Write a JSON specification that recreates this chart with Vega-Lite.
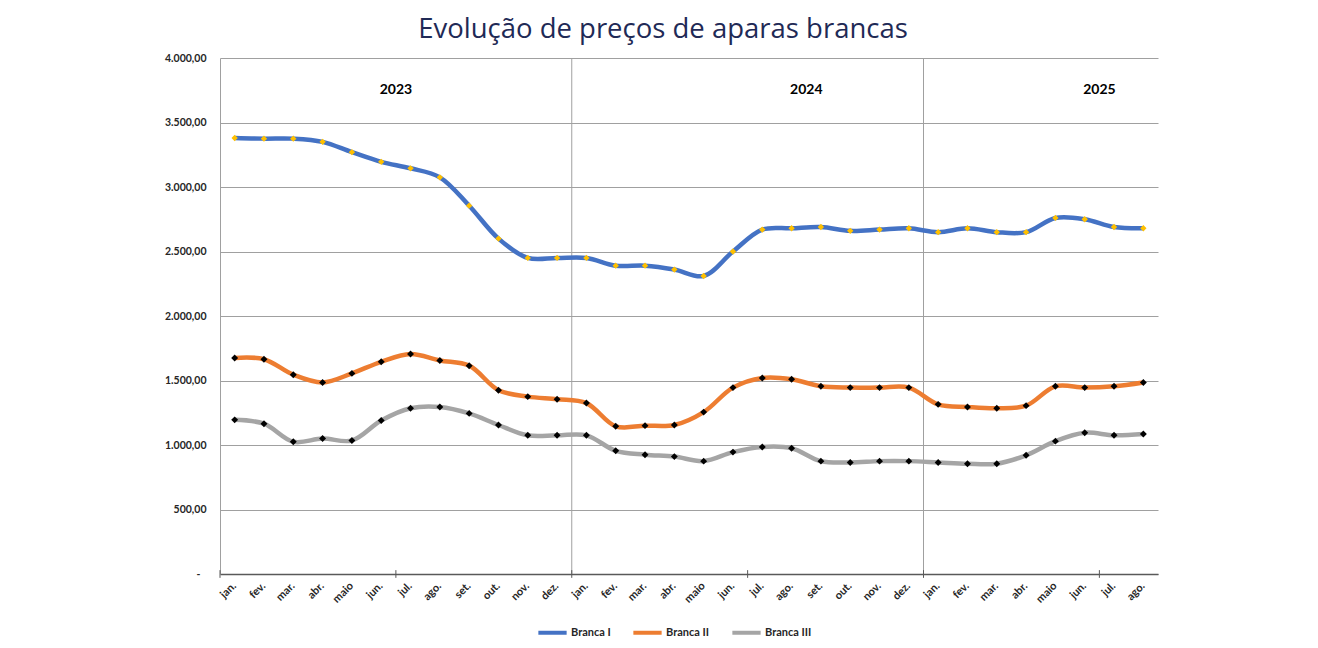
{
  "$schema": "https://vega.github.io/schema/vega-lite/v6.json",
  "width": 938,
  "height": 516,
  "autosize": {"type": "none"},
  "padding": {"left": 220, "top": 58, "right": 160, "bottom": 74},
  "background": "white",
  "config": {
    "locale": {"number": {"decimal": ",", "thousands": ".", "grouping": [3], "currency": ["R$", ""]}},
    "view": {"stroke": null},
    "font": "Lato"
  },
  "title": {
    "text": "Evolução de preços de aparas brancas",
    "font": "Open Sans",
    "fontSize": 27.5,
    "fontWeight": "normal",
    "color": "#1f2a56",
    "anchor": "middle",
    "frame": "group",
    "dx": -26,
    "offset": -12,
    "baseline": "alphabetic"
  },
  "datasets": {
    "precos": [
      {"p": "jan. 2023", "Branca I": 3380, "Branca II": 1675, "Branca III": 1195},
      {"p": "fev. 2023", "Branca I": 3375, "Branca II": 1665, "Branca III": 1165},
      {"p": "mar. 2023", "Branca I": 3375, "Branca II": 1545, "Branca III": 1025},
      {"p": "abr. 2023", "Branca I": 3350, "Branca II": 1485, "Branca III": 1050},
      {"p": "maio 2023", "Branca I": 3270, "Branca II": 1555, "Branca III": 1035},
      {"p": "jun. 2023", "Branca I": 3195, "Branca II": 1645, "Branca III": 1190},
      {"p": "jul. 2023", "Branca I": 3145, "Branca II": 1705, "Branca III": 1285},
      {"p": "ago. 2023", "Branca I": 3075, "Branca II": 1655, "Branca III": 1295},
      {"p": "set. 2023", "Branca I": 2855, "Branca II": 1615, "Branca III": 1245},
      {"p": "out. 2023", "Branca I": 2600, "Branca II": 1425, "Branca III": 1155},
      {"p": "nov. 2023", "Branca I": 2450, "Branca II": 1375, "Branca III": 1075},
      {"p": "dez. 2023", "Branca I": 2450, "Branca II": 1355, "Branca III": 1075},
      {"p": "jan. 2024", "Branca I": 2450, "Branca II": 1325, "Branca III": 1075},
      {"p": "fev. 2024", "Branca I": 2390, "Branca II": 1145, "Branca III": 955},
      {"p": "mar. 2024", "Branca I": 2390, "Branca II": 1150, "Branca III": 925},
      {"p": "abr. 2024", "Branca I": 2360, "Branca II": 1155, "Branca III": 910},
      {"p": "maio 2024", "Branca I": 2310, "Branca II": 1255, "Branca III": 875},
      {"p": "jun. 2024", "Branca I": 2500, "Branca II": 1445, "Branca III": 945},
      {"p": "jul. 2024", "Branca I": 2670, "Branca II": 1520, "Branca III": 985},
      {"p": "ago. 2024", "Branca I": 2680, "Branca II": 1510, "Branca III": 975},
      {"p": "set. 2024", "Branca I": 2690, "Branca II": 1455, "Branca III": 875},
      {"p": "out. 2024", "Branca I": 2660, "Branca II": 1445, "Branca III": 865},
      {"p": "nov. 2024", "Branca I": 2670, "Branca II": 1445, "Branca III": 875},
      {"p": "dez. 2024", "Branca I": 2680, "Branca II": 1445, "Branca III": 875},
      {"p": "jan. 2025", "Branca I": 2650, "Branca II": 1315, "Branca III": 865},
      {"p": "fev. 2025", "Branca I": 2680, "Branca II": 1295, "Branca III": 855},
      {"p": "mar. 2025", "Branca I": 2650, "Branca II": 1285, "Branca III": 855},
      {"p": "abr. 2025", "Branca I": 2650, "Branca II": 1305, "Branca III": 920},
      {"p": "maio 2025", "Branca I": 2760, "Branca II": 1455, "Branca III": 1030},
      {"p": "jun. 2025", "Branca I": 2750, "Branca II": 1445, "Branca III": 1095},
      {"p": "jul. 2025", "Branca I": 2690, "Branca II": 1455, "Branca III": 1075},
      {"p": "ago. 2025", "Branca I": 2680, "Branca II": 1485, "Branca III": 1085}
    ],
    "separadores": [{"p": "jan. 2024"}, {"p": "jan. 2025"}],
    "marcas": [{"p": "jan. 2023"}, {"p": "jul. 2023"}, {"p": "jan. 2024"}, {"p": "jul. 2024"}, {"p": "jan. 2025"}, {"p": "jul. 2025"}],
    "anos": [{"p": "jul. 2023", "t": "2023"}, {"p": "set. 2024", "t": "2024"}, {"p": "jul. 2025", "t": "2025"}]
  },
  "layer": [
    {
      "data": {"name": "separadores"},
      "mark": {"type": "rule", "color": "#a0a0a0", "strokeWidth": 1},
      "encoding": {
        "x": {"field": "p", "type": "ordinal", "bandPosition": 0},
        "y": {"datum": 0, "type": "quantitative"},
        "y2": {"datum": 4000}
      }
    },
    {
      "data": {"name": "marcas"},
      "mark": {"type": "rule", "color": "#595959", "strokeWidth": 1},
      "encoding": {
        "x": {"field": "p", "type": "ordinal", "bandPosition": 0},
        "y": {"datum": -30, "type": "quantitative"},
        "y2": {"datum": 30}
      }
    },
    {
      "data": {"name": "anos"},
      "mark": {"type": "text", "font": "Lato", "fontWeight": "bold", "fontSize": 14, "color": "#000000", "baseline": "middle", "align": "center"},
      "encoding": {
        "x": {"field": "p", "type": "ordinal", "bandPosition": 0},
        "y": {"datum": 3750, "type": "quantitative"},
        "text": {"field": "t"}
      }
    },
    {
      "data": {"name": "precos"},
      "transform": [{"fold": ["Branca I", "Branca II", "Branca III"], "as": ["serie", "valor"]}],
      "layer": [
        {
          "mark": {"type": "line", "interpolate": "catmull-rom", "strokeWidth": 4.5},
          "encoding": {
            "color": {
              "field": "serie",
              "type": "nominal",
              "scale": {"domain": ["Branca I", "Branca II", "Branca III"], "range": ["#4472c4", "#ed7d31", "#a5a5a5"]},
              "legend": {
                "title": null,
                "orient": "none",
                "legendX": 316,
                "legendY": 558,
                "direction": "horizontal",
                "symbolType": "stroke",
                "symbolSize": 800,
                "symbolStrokeWidth": 4,
                "labelFont": "Lato",
                "labelFontWeight": "bold",
                "labelFontSize": 11,
                "labelColor": "#262626",
                "columnPadding": 14,
                "labelOffset": 2
              }
            }
          }
        },
        {
          "transform": [{"filter": "datum.serie == 'Branca I'"}],
          "mark": {"type": "point", "shape": "diamond", "filled": true, "size": 40, "color": "#ffc000", "opacity": 1}
        },
        {
          "transform": [{"filter": "datum.serie != 'Branca I'"}],
          "mark": {"type": "point", "shape": "diamond", "filled": true, "size": 48, "color": "#000000", "opacity": 1}
        }
      ],
      "encoding": {
        "x": {"field": "p", "type": "ordinal", "bandPosition": 0.5},
        "y": {"field": "valor", "type": "quantitative"}
      }
    }
  ],
  "encoding": {
    "x": {
      "field": "p",
      "type": "ordinal",
      "sort": null,
      "scale": {
        "type": "band",
        "paddingInner": 0,
        "paddingOuter": 0,
        "domain": ["jan. 2023", "fev. 2023", "mar. 2023", "abr. 2023", "maio 2023", "jun. 2023", "jul. 2023", "ago. 2023", "set. 2023", "out. 2023", "nov. 2023", "dez. 2023", "jan. 2024", "fev. 2024", "mar. 2024", "abr. 2024", "maio 2024", "jun. 2024", "jul. 2024", "ago. 2024", "set. 2024", "out. 2024", "nov. 2024", "dez. 2024", "jan. 2025", "fev. 2025", "mar. 2025", "abr. 2025", "maio 2025", "jun. 2025", "jul. 2025", "ago. 2025"]
      },
      "axis": {
        "title": null,
        "labelExpr": "split(datum.label, ' ')[0]",
        "labelAngle": -45,
        "labelAlign": "right",
        "labelBaseline": "middle",
        "labelFont": "Lato",
        "labelFontWeight": "bold",
        "labelFontSize": 11,
        "labelColor": "#262626",
        "labelPadding": 10,
        "ticks": false,
        "grid": false,
        "domainColor": "#595959",
        "domainWidth": 1.5
      }
    },
    "y": {
      "type": "quantitative",
      "scale": {"domain": [0, 4000], "nice": false, "zero": true},
      "axis": {
        "title": null,
        "values": [0, 500, 1000, 1500, 2000, 2500, 3000, 3500, 4000],
        "format": ",.2f",
        "labelExpr": "datum.value == 0 ? '-' : datum.label",
        "labelFont": "Lato",
        "labelFontWeight": "bold",
        "labelFontSize": 10.5,
        "labelColor": "#262626",
        "labelPadding": {"condition": {"test": "datum.value == 0", "value": 20}, "value": 14},
        "ticks": false,
        "grid": true,
        "gridColor": "#a0a0a0",
        "gridWidth": 1,
        "domainColor": "#a0a0a0",
        "domainWidth": 1
      }
    }
  }
}
